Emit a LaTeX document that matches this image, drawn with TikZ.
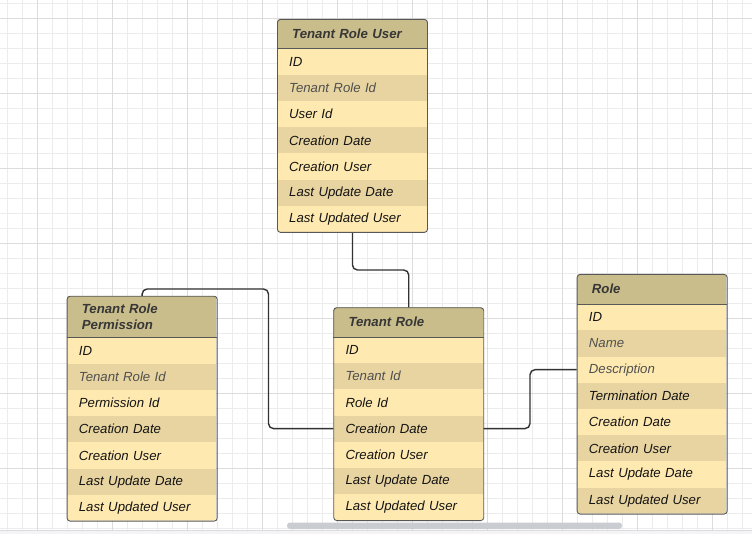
\documentclass[tikz,border=0pt]{standalone}
\usepackage{fontspec}
\setmainfont{Liberation Sans}
\usetikzlibrary{calc}

\definecolor{gridminor}{RGB}{236,236,236}
\definecolor{gridmajor}{RGB}{220,220,220}
\definecolor{headfill}{RGB}{201,189,139}
\definecolor{rowlight}{RGB}{254,233,176}
\definecolor{rowdark}{RGB}{232,212,160}
\definecolor{boxline}{RGB}{88,88,88}
\definecolor{headtext}{RGB}{55,55,55}
\definecolor{fieldblack}{RGB}{20,20,20}
\definecolor{fieldgrey}{RGB}{80,80,80}
\definecolor{connline}{RGB}{50,50,50}
\definecolor{scrollbar}{RGB}{201,204,209}
\definecolor{bottomband}{RGB}{244,244,247}

\tikzset{
  headcell/.style={anchor=north west, inner xsep=15pt, inner ysep=0pt,
    text width=120pt, align=left, minimum height=#1, text=headtext,
    font=\bfseries\itshape\fontsize{13.2}{16}\selectfont},
  rowcell/.style={anchor=north west, inner xsep=12pt, inner ysep=0pt,
    text width=126pt, align=left, minimum height=26.2pt,
    font=\itshape\fontsize{13.2}{16}\selectfont},
  entity/.style={draw=boxline, line width=0.9pt, rounded corners=3pt,
    anchor=north west, inner sep=0pt, minimum width=150pt},
  conn/.style={draw=connline, line width=1.4pt, rounded corners=5pt},
}

% #1 name, #2 left, #3 top, #4 header height, #5 title, #6 number of rows, #7 rows (text/colour)
\newcommand\entitytable[7]{%
  \pgfmathsetmacro\tblh{#4+#6*26.2}%
  \begin{scope}
    \clip[rounded corners=3pt] (#2,#3) rectangle ++(150,\tblh);
    \fill[headfill] (#2,#3) rectangle ++(150,#4);
    \node[headcell=#4pt] (#1-h) at (#2,#3) {#5};
    \foreach \txt/\tc [count=\i from 0] in {#7} {
      \pgfmathsetmacro\ry{#3+#4+\i*26.2}
      \ifodd\i\relax \def\rf{rowdark}\else \def\rf{rowlight}\fi
      \node[rowcell, fill=\rf, text=\tc] (#1-\i) at (#2,\ry) {\txt};
    }
  \end{scope}
  \draw[boxline, line width=0.9pt] (#1-h.south west) -- (#1-h.south east);
  \node[entity, minimum height=\tblh pt] (#1) at (#2,#3) {};
}

\begin{document}
\begin{tikzpicture}[x=1pt, y=-1pt]
  \useasboundingbox (0,0) rectangle (752,534);
  \fill[white] (0,0) rectangle (752,534);

  % background grid
  \foreach \gx in {7,22,...,752} \draw[gridminor, line width=0.8pt] (\gx,0) -- (\gx,534);
  \foreach \gy in {3,18,...,534} \draw[gridminor, line width=0.8pt] (0,\gy) -- (752,\gy);
  \foreach \gx in {37,112,...,752} \draw[gridmajor, line width=0.9pt] (\gx,0) -- (\gx,534);
  \foreach \gy in {18,93,...,534} \draw[gridmajor, line width=0.9pt] (0,\gy) -- (752,\gy);

  % bottom band and scroll bar
  \fill[bottomband] (0,530.5) rectangle (752,534);
  \draw[gridmajor, line width=0.6pt] (0,530.5) -- (752,530.5);
  \fill[scrollbar, rounded corners=3pt] (287,522.5) rectangle (622,529);

  % tables
  \entitytable{tru}{277}{19}{29.5}{Tenant Role User}{7}{
    ID/fieldblack, Tenant Role Id/fieldgrey, User Id/fieldblack,
    Creation Date/fieldblack, Creation User/fieldblack,
    Last Update Date/fieldblack, Last Updated User/fieldblack}

  \entitytable{trp}{66.7}{295.8}{41.5}{Tenant Role\\Permission}{7}{
    ID/fieldblack, Tenant Role Id/fieldgrey, Permission Id/fieldblack,
    Creation Date/fieldblack, Creation User/fieldblack,
    Last Update Date/fieldblack, Last Updated User/fieldblack}

  \entitytable{tr}{333.3}{307.3}{29.4}{Tenant Role}{7}{
    ID/fieldblack, Tenant Id/fieldgrey, Role Id/fieldblack,
    Creation Date/fieldblack, Creation User/fieldblack,
    Last Update Date/fieldblack, Last Updated User/fieldblack}

  \entitytable{role}{576.7}{274}{30}{Role}{8}{
    ID/fieldblack, Name/fieldgrey, Description/fieldgrey,
    Termination Date/fieldblack, Creation Date/fieldblack,
    Creation User/fieldblack, Last Update Date/fieldblack,
    Last Updated User/fieldblack}

  % connector bends
  \coordinate (j1) at (380,270);
  \coordinate (j2) at (268.5,289);
  \coordinate (j3) at (530,400);

  % connectors
  \draw[conn] (tru.south) -- (tru.south |- j1) -- (tr.north |- j1) -- (tr.north);
  \draw[conn] (trp.north) -- (trp.north |- j2) -- (j2) -- (j2 |- tr-3.west) -- (tr-3.west);
  \draw[conn] (tr-3.east) -- (tr-3.east -| j3) -- (j3 |- role-2.west) -- (role-2.west);
\end{tikzpicture}
\end{document}
